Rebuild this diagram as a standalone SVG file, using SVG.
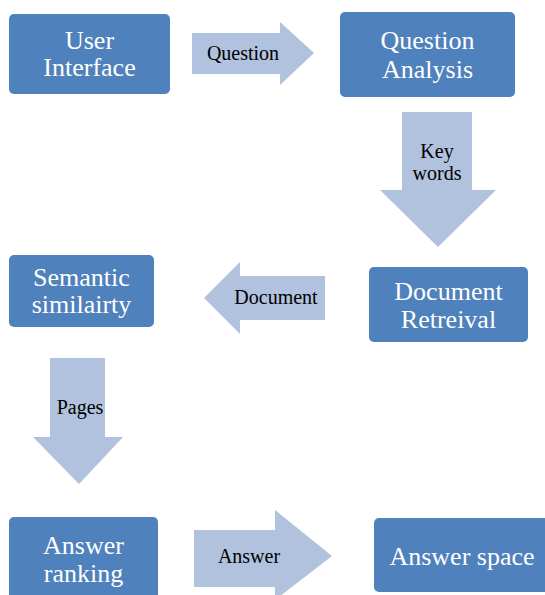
<svg xmlns="http://www.w3.org/2000/svg" width="545" height="595" viewBox="0 0 545 595">
<style>
.box{fill:#4F81BD;}
.arr{fill:#B0C2DE;}
.bt{font-family:"Liberation Serif","Times New Roman",serif;font-size:26px;fill:#FFFFFF;text-anchor:middle;}
.at{font-family:"Liberation Serif","Times New Roman",serif;font-size:20px;fill:#000000;text-anchor:middle;}
</style>
<rect width="545" height="595" fill="#FFFFFF"/>
<g id="connectors">
<g id="c-question">
<polygon class="arr" points="192,33 280,33 280,22 314,53 280,85 280,74 192,74"/>
<text class="at" x="243" y="60">Question</text>
</g>
<g id="c-keywords">
<polygon class="arr" points="402,112 472,112 472,190 496,190 438,247 380,190 402,190"/>
<text class="at" x="437" y="158">Key</text>
<text class="at" x="437" y="180">words</text>
</g>
<g id="c-document">
<polygon class="arr" points="325,276 240,276 240,262 204,298 240,334 240,320 325,320"/>
<text class="at" x="276" y="304">Document</text>
</g>
<g id="c-pages">
<polygon class="arr" points="50,358 105,358 105,437 123,437 79,484 33,437 50,437"/>
<text class="at" x="80" y="414">Pages</text>
</g>
<g id="c-answer">
<polygon class="arr" points="194,530 275,530 275,510 332,556 275,600 275,587 194,587"/>
<text class="at" x="249" y="563">Answer</text>
</g>
</g>
<g id="n-user">
<rect class="box" x="9" y="14" width="161" height="80" rx="5"/>
<text class="bt" x="89.5" y="49">User</text>
<text class="bt" x="89.5" y="76">Interface</text>
</g>
<g id="n-qa">
<rect class="box" x="340" y="12" width="175" height="85" rx="5"/>
<text class="bt" x="427.5" y="49">Question</text>
<text class="bt" x="427.5" y="78">Analysis</text>
</g>
<g id="n-dr">
<rect class="box" x="369" y="267" width="159" height="75" rx="5"/>
<text class="bt" x="448.5" y="300">Document</text>
<text class="bt" x="448.5" y="328">Retreival</text>
</g>
<g id="n-ss">
<rect class="box" x="9" y="255" width="145" height="72" rx="5"/>
<text class="bt" x="81.5" y="286">Semantic</text>
<text class="bt" x="81.5" y="313">similairty</text>
</g>
<g id="n-ar">
<rect class="box" x="9" y="517" width="149" height="90" rx="5"/>
<text class="bt" x="83.5" y="554">Answer</text>
<text class="bt" x="83.5" y="582">ranking</text>
</g>
<g id="n-as">
<rect class="box" x="374" y="518" width="175" height="74" rx="5"/>
<text class="bt" x="462" y="565">Answer space</text>
</g>
</svg>
